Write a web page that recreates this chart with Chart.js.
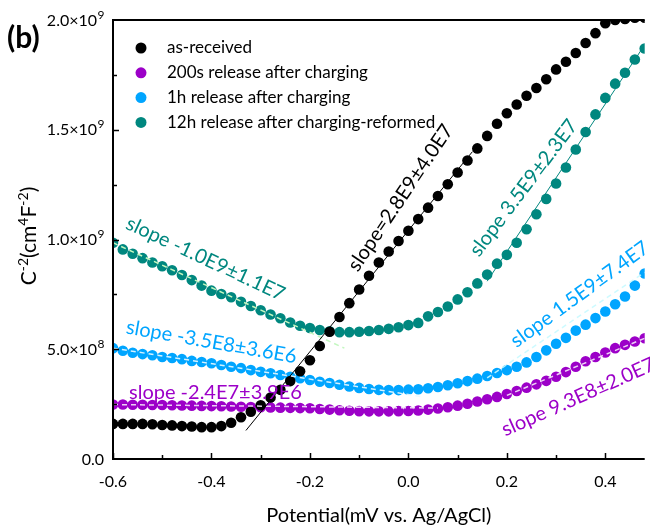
<!DOCTYPE html>
<html>
<head>
<meta charset="utf-8">
<script src="https://cdn.jsdelivr.net/npm/chart.js@4/dist/chart.umd.min.js"></script>
<style>
  body { margin: 0; background: #fff; }
  #chart { display: block; }
</style>
</head>
<body>
<canvas id="chart" width="650" height="526"></canvas>
<script>
// values, y in units of 1e9 cm^4 F^-2
const UNIT = 1e9

const potential = [
    -0.60, -0.58, -0.56, -0.54, -0.52, -0.50, -0.48, -0.46, -0.44, -0.42,
    -0.40, -0.38, -0.36, -0.34, -0.32, -0.30, -0.28, -0.26, -0.24, -0.22,
    -0.20, -0.18, -0.16, -0.14, -0.12, -0.10, -0.08, -0.06, -0.04, -0.02,
    0.00, 0.02, 0.04, 0.06, 0.08, 0.10, 0.12, 0.14, 0.16, 0.18,
    0.20, 0.22, 0.24, 0.26, 0.28, 0.30, 0.32, 0.34, 0.36, 0.38,
    0.40, 0.42, 0.44, 0.46, 0.48
]

const asReceived = [
    0.160, 0.160, 0.160, 0.160, 0.158, 0.155, 0.153, 0.150, 0.148, 0.145,
    0.145, 0.150, 0.165, 0.190, 0.215, 0.245, 0.280, 0.315, 0.355, 0.400,
    0.450, 0.515, 0.580, 0.647, 0.710, 0.772, 0.835, 0.895, 0.945, 0.993,
    1.040, 1.093, 1.145, 1.198, 1.252, 1.305, 1.360, 1.415, 1.472, 1.527,
    1.575, 1.615, 1.655, 1.690, 1.730, 1.775, 1.810, 1.850, 1.895, 1.940,
    1.985, 2.000, 2.005, 2.010, 2.010
]

const release200s = [
    0.248, 0.248, 0.247, 0.247, 0.246, 0.246, 0.245, 0.244, 0.243, 0.242,
    0.241, 0.240, 0.239, 0.238, 0.237, 0.236, 0.235, 0.234, 0.233, 0.232,
    0.231, 0.228, 0.225, 0.222, 0.220, 0.218, 0.217, 0.217, 0.217, 0.218,
    0.219, 0.221, 0.225, 0.230, 0.236, 0.243, 0.252, 0.262, 0.272, 0.283,
    0.296, 0.310, 0.325, 0.340, 0.356, 0.375, 0.396, 0.420, 0.445, 0.465,
    0.485, 0.505, 0.520, 0.535, 0.550
]

const release1h = [
    0.505, 0.493, 0.484, 0.478, 0.473, 0.465, 0.460, 0.455, 0.447, 0.442,
    0.436, 0.428, 0.420, 0.414, 0.405, 0.397, 0.391, 0.383, 0.375, 0.368,
    0.360, 0.352, 0.346, 0.338, 0.330, 0.324, 0.319, 0.315, 0.314, 0.314,
    0.316, 0.318, 0.322, 0.328, 0.336, 0.345, 0.355, 0.366, 0.378, 0.392,
    0.405, 0.420, 0.440, 0.465, 0.495, 0.525, 0.552, 0.585, 0.612, 0.642,
    0.672, 0.705, 0.740, 0.790, 0.845
]

const release12h = [
    0.985, 0.955, 0.935, 0.915, 0.895, 0.878, 0.860, 0.838, 0.815, 0.790,
    0.767, 0.752, 0.737, 0.716, 0.697, 0.678, 0.658, 0.641, 0.622, 0.607,
    0.597, 0.588, 0.582, 0.578, 0.578, 0.580, 0.583, 0.588, 0.593, 0.600,
    0.610, 0.620, 0.650, 0.670, 0.695, 0.727, 0.760, 0.800, 0.840, 0.890,
    0.930, 0.985, 1.047, 1.115, 1.185, 1.255, 1.328, 1.410, 1.490, 1.570,
    1.645, 1.710, 1.760, 1.820, 1.870
]

// linear fits drawn over the data (end points)
const fitAsReceivedX = [-0.33, 0.13]
const fitAsReceivedY = [0.13, 1.40]
const fit12hLowX = [-0.60, -0.13]
const fit12hLowY = [0.985, 0.505]
const fit12hHighX = [0.16, 0.475]
const fit12hHighY = [0.81, 1.87]
const fit1hLowX = [-0.60, 0.03]
const fit1hLowY = [0.505, 0.283]
const fit1hHighX = [0.16, 0.48]
const fit1hHighY = [0.37, 0.85]
const fit200sLowX = [-0.60, 0.06]
const fit200sLowY = [0.248, 0.232]
const fit200sHighX = [0.20, 0.48]
const fit200sHighY = [0.29, 0.55]

const seriesLabels = ['as-received', '200s release after charging', '1h release after charging', '12h release after charging-reformed']
const slopeTexts = [
    'slope=2.8E9\u00b14.0E7',
    'slope -2.4E7\u00b13.9E6',
    'slope 9.3E8\u00b12.0E7',
    'slope -3.5E8\u00b13.6E6',
    'slope 1.5E9\u00b17.4E7',
    'slope -1.0E9\u00b11.1E7',
    'slope 3.5E9\u00b12.3E7'
]
const xTickValues = [-0.6, -0.4, -0.2, 0.0, 0.2, 0.4]
const yTickValues = [0, 5e8, 1e9, 1.5e9, 2e9]
// [mantissa part, exponent] for each y tick label
const yTickLabels = [['0.0', ''], ['5.0\u00d710', '8'], ['1.0\u00d710', '9'], ['1.5\u00d710', '9'], ['2.0\u00d710', '9']]
// y title pieces: [text, superscript?]
const yTitleParts = [['C', false], ['-2', true], ['(cm', false], ['4', true], ['F', false], ['-2', true], [')', false]]
const xTitle = 'Potential(mV vs. Ag/AgCl)'

const BLACK = '#000000'
const PURPLE = '#9c00c8'
const BLUE = '#00a5ff'
const TEAL = '#00877f'
const FONT = 'Lato, "DejaVu Sans", sans-serif'

const toPoints = (ys) => potential.map((x, i) => ({ x: x, y: ys[i] * UNIT }))
const toLine = (xs, ys) => xs.map((x, i) => ({ x: x, y: ys[i] * UNIT }))

const dotSet = (label, ys, color, order) => ({
    label: label,
    data: toPoints(ys),
    showLine: false,
    pointRadius: 5.3,
    pointHoverRadius: 5.3,
    pointBackgroundColor: color,
    pointBorderColor: color,
    pointBorderWidth: 0,
    order: order
})

const fitSet = (xs, ys, color, width, dash) => ({
    label: '',
    data: toLine(xs, ys),
    showLine: true,
    pointRadius: 0,
    borderColor: color,
    borderWidth: width,
    borderDash: dash,
    fill: false,
    order: 0
})

// slope labels, placed in data coordinates
const notePlugin = {
    id: 'notes',
    afterDatasetsDraw(chart) {
        const ctx = chart.ctx
        const xs = chart.scales.x
        const ys = chart.scales.y
        const notes = [
            { text: slopeTexts[0], x: -0.016, y: 1.19, a: -56, c: BLACK },
            { text: slopeTexts[1], x: -0.392, y: 0.305, a: 0, c: PURPLE },
            { text: slopeTexts[2], x: 0.345, y: 0.282, a: -24, c: PURPLE },
            { text: slopeTexts[3], x: -0.4, y: 0.533, a: 10, c: BLUE },
            { text: slopeTexts[4], x: 0.348, y: 0.75, a: -36, c: BLUE },
            { text: slopeTexts[5], x: -0.412, y: 0.912, a: 25, c: TEAL },
            { text: slopeTexts[6], x: 0.234, y: 1.235, a: -53, c: TEAL }
        ]
        ctx.save()
        ctx.font = '20px ' + FONT
        ctx.textAlign = 'center'
        ctx.textBaseline = 'middle'
        notes.forEach(n => {
            ctx.save()
            ctx.translate(xs.getPixelForValue(n.x), ys.getPixelForValue(n.y * UNIT))
            ctx.rotate(n.a * Math.PI / 180)
            ctx.fillStyle = n.c
            ctx.fillText(n.text, 0, 0)
            ctx.restore()
        })
        ctx.restore()
    }
}

// axis frame, inward ticks, y labels with exponents, titles, legend and panel letter
const framePlugin = {
    id: 'frame',
    afterDraw(chart) {
        const ctx = chart.ctx
        const area = chart.chartArea
        const xs = chart.scales.x
        const ys = chart.scales.y
        ctx.save()
        ctx.strokeStyle = '#000'
        ctx.lineWidth = 2
        ctx.beginPath()
        ctx.moveTo(area.left, area.top)
        ctx.lineTo(area.right, area.top)
        ctx.moveTo(area.left, area.top - 1)
        ctx.lineTo(area.left, area.bottom)
        ctx.lineTo(area.right, area.bottom)
        ctx.stroke()

        ctx.lineWidth = 1.5
        ctx.beginPath()
        for (let v = -0.6; v <= 0.48; v += 0.1) {
            const px = Math.round(xs.getPixelForValue(v)) + 0.5
            const major = Math.abs(Math.round(v * 10)) % 2 === 0
            ctx.moveTo(px, area.bottom)
            ctx.lineTo(px, area.bottom - (major ? 6 : 4))
        }
        for (let v = 2.5e8; v < 2e9; v += 2.5e8) {
            const py = Math.round(ys.getPixelForValue(v)) + 0.5
            const major = Math.round(v / 2.5e8) % 2 === 0
            ctx.moveTo(area.left, py)
            ctx.lineTo(area.left + (major ? 6 : 4), py)
        }
        ctx.stroke()

        // y tick labels
        ctx.fillStyle = '#000'
        ctx.textAlign = 'left'
        ctx.textBaseline = 'alphabetic'
        yTickValues.forEach((v, i) => {
            const py = ys.getPixelForValue(v)
            const [base, sup] = yTickLabels[i]
            ctx.font = '16px ' + FONT
            const wb = ctx.measureText(base).width
            ctx.font = '12px ' + FONT
            const ws = ctx.measureText(sup).width
            const x0 = 104 - wb - ws
            ctx.font = '16px ' + FONT
            ctx.fillText(base, x0, py + 5.5)
            ctx.font = '12px ' + FONT
            ctx.fillText(sup, x0 + wb + 0.5, py - 1.5)
        })

        // x title
        ctx.font = '20px ' + FONT
        ctx.textAlign = 'center'
        ctx.textBaseline = 'middle'
        ctx.fillText(xTitle, (area.left + area.right) / 2, 516)

        // y title, rotated, with superscripts
        ctx.save()
        ctx.translate(36, 236)
        ctx.rotate(-Math.PI / 2)
        ctx.textAlign = 'left'
        ctx.textBaseline = 'alphabetic'
        let total = 0
        yTitleParts.forEach(([t, sup]) => {
            ctx.font = (sup ? '14px ' : '21px ') + FONT
            total += ctx.measureText(t).width
        })
        let cx = -total / 2
        yTitleParts.forEach(([t, sup]) => {
            ctx.font = (sup ? '14px ' : '21px ') + FONT
            ctx.fillText(t, cx, sup ? -8 : 0)
            cx += ctx.measureText(t).width
        })
        ctx.restore()

        ctx.font = 'bold 30px ' + FONT
        ctx.textAlign = 'left'
        ctx.textBaseline = 'middle'
        ctx.fillText('(b)', 7, 38)

        // legend
        ctx.font = '17px ' + FONT
        chart.data.datasets.slice(0, 4).forEach((ds, i) => {
            const cy = 48 + i * 24.8
            ctx.fillStyle = ds.pointBackgroundColor
            ctx.beginPath()
            ctx.arc(141, cy, 5.5, 0, Math.PI * 2)
            ctx.fill()
            ctx.fillStyle = '#000'
            ctx.fillText(ds.label, 167, cy)
        })
        ctx.restore()
    }
}

new Chart(document.getElementById('chart'), {
    type: 'scatter',
    data: {
        datasets: [
            dotSet(seriesLabels[0], asReceived, BLACK, 1),
            dotSet(seriesLabels[1], release200s, PURPLE, 3),
            dotSet(seriesLabels[2], release1h, BLUE, 4),
            dotSet(seriesLabels[3], release12h, TEAL, 2),
            fitSet(fitAsReceivedX, fitAsReceivedY, BLACK, 1, []),
            fitSet(fit12hLowX, fit12hLowY, '#c4f7c0', 1.5, [5, 4]),
            fitSet(fit12hHighX, fit12hHighY, TEAL, 1, []),
            fitSet(fit1hLowX, fit1hLowY, 'rgba(235,250,255,0.9)', 1.5, [5, 4]),
            fitSet(fit1hHighX, fit1hHighY, 'rgba(200,250,255,0.9)', 1.5, [5, 4]),
            fitSet(fit200sLowX, fit200sLowY, 'rgba(245,230,250,0.9)', 1.5, [5, 4]),
            fitSet(fit200sHighX, fit200sHighY, 'rgba(245,230,250,0.9)', 1.5, [5, 4])
        ]
    },
    options: {
        responsive: false,
        animation: false,
        devicePixelRatio: 1,
        layout: { padding: { left: 0, top: 20, right: 0, bottom: 0 } },
        plugins: {
            legend: { display: false },
            tooltip: { enabled: false }
        },
        scales: {
            x: {
                type: 'linear',
                min: -0.6,
                max: 0.48,
                grid: { display: false },
                border: { display: false },
                afterFit: (scale) => { scale.height = 67 },
                afterBuildTicks: (scale) => { scale.ticks = xTickValues.map(v => ({ value: v })) },
                ticks: {
                    padding: 5,
                    color: '#000',
                    font: { family: FONT, size: 16 },
                    callback: (v) => (Math.abs(v) < 1e-9 ? 0 : v).toFixed(1)
                }
            },
            y: {
                type: 'linear',
                min: 0,
                max: 2e9,
                grid: { display: false },
                border: { display: false },
                afterFit: (scale) => { scale.width = 113 },
                afterBuildTicks: (scale) => { scale.ticks = yTickValues.map(v => ({ value: v })) },
                ticks: { display: false }
            }
        }
    },
    plugins: [notePlugin, framePlugin]
})
</script>
</body>
</html>
